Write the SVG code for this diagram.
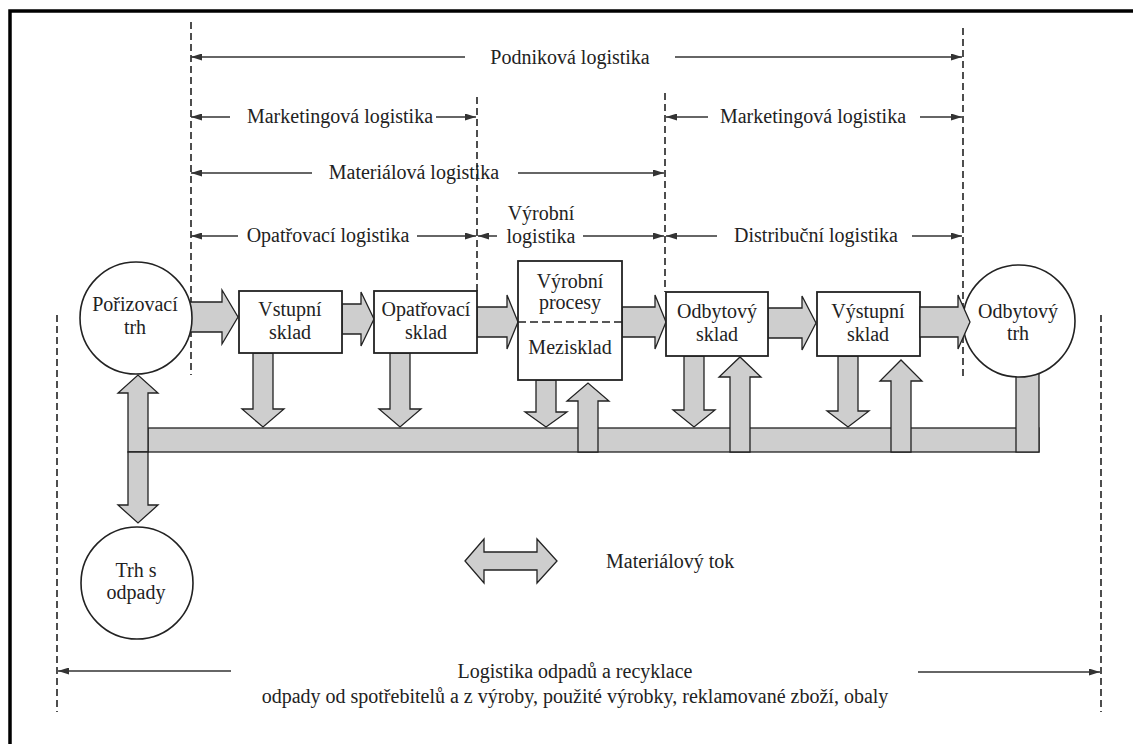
<svg xmlns="http://www.w3.org/2000/svg" width="1133" height="744" viewBox="0 0 1133 744">
<defs>
<marker id="ah" viewBox="0 0 11 7" refX="11" refY="3.5" markerWidth="11" markerHeight="7" orient="auto" markerUnits="userSpaceOnUse"><path d="M0,0 L11,3.5 L0,7 z" fill="#333"/></marker>
<style>
text{font-family:"Liberation Serif","Times New Roman","DejaVu Serif",serif;font-size:20px;fill:#222;text-anchor:middle}
.dash{stroke:#222;stroke-width:1.6;stroke-dasharray:7 4;fill:none}
.dim{stroke:#333;stroke-width:1.5;fill:none;marker-end:url(#ah)}
.flow{fill:#cecece;stroke:#222;stroke-width:1.3;stroke-linejoin:miter}
.box{fill:#fff;stroke:#222;stroke-width:1.8}
.circ{fill:#fff;stroke:#222;stroke-width:1.6}
</style>
</defs>
<rect width="1133" height="744" fill="#fff"/>
<path d="M10,744 V11 H1133" fill="none" stroke="#000" stroke-width="3.5"/>

<g id="boundaries">
<line class="dash" x1="191" y1="22" x2="191" y2="375"/>
<line class="dash" x1="477" y1="97" x2="477" y2="291"/>
<line class="dash" x1="665" y1="93" x2="665" y2="292"/>
<line class="dash" x1="963" y1="28" x2="963" y2="380"/>
<line class="dash" x1="57" y1="315" x2="57" y2="712"/>
<line class="dash" x1="1101" y1="315" x2="1101" y2="712"/>
</g>

<g id="spans" font-family="'Liberation Serif','Times New Roman',serif">
<line class="dim" x1="465" y1="57" x2="191" y2="57"/>
<line class="dim" x1="675" y1="57" x2="962" y2="57"/>
<text x="570" y="64">Podniková logistika</text>
<line class="dim" x1="230" y1="117" x2="191" y2="117"/>
<line class="dim" x1="436" y1="117" x2="476" y2="117"/>
<text x="340" y="123">Marketingová logistika</text>
<line class="dim" x1="312" y1="173" x2="191" y2="173"/>
<line class="dim" x1="518" y1="173" x2="664" y2="173"/>
<text x="414" y="179">Materiálová logistika</text>
<line class="dim" x1="238" y1="236" x2="191" y2="236"/>
<line class="dim" x1="417" y1="236" x2="476" y2="236"/>
<text x="328" y="242">Opatřovací logistika</text>
<line class="dim" x1="497" y1="236" x2="478" y2="236"/>
<line class="dim" x1="583" y1="236" x2="664" y2="236"/>
<text x="541" y="220">Výrobní</text>
<text x="541" y="243">logistika</text>
<line class="dim" x1="708" y1="117" x2="666" y2="117"/>
<line class="dim" x1="920" y1="117" x2="962" y2="117"/>
<text x="813" y="123">Marketingová logistika</text>
<line class="dim" x1="717" y1="236" x2="666" y2="236"/>
<line class="dim" x1="912" y1="236" x2="962" y2="236"/>
<text x="816" y="242">Distribuční logistika</text>
<line class="dim" x1="231" y1="671" x2="58" y2="671"/>
<line class="dim" x1="918" y1="672" x2="1100" y2="672"/>
<text x="575" y="678">Logistika odpadů a recyklace</text>
<text x="575" y="703">odpady od spotřebitelů a z výroby, použité výrobky, reklamované zboží, obaly</text>
</g>

<g id="connectors">
<rect class="flow" x="148" y="428" width="891" height="24"/>
<rect class="flow" x="1016" y="365" width="23" height="87"/>
<polygon class="flow" points="128,452 128,393 118,393 138,375 158,393 148,393 148,452"/>
<polygon class="flow" points="128,452 148,452 148,505 158,505 138,523 118,505 128,505"/>
<polygon class="flow" points="578,452 578,401 567,401 588,383 609,401 598,401 598,452"/>
<polygon class="flow" points="730,452 730,377 719,377 740,357 761,377 750,377 750,452"/>
<polygon class="flow" points="891,452 891,381 880,381 901,360 922,381 911,381 911,452"/>
<polygon class="flow" points="253,353 273,353 273,409 284,409 263,427 242,409 253,409"/>
<polygon class="flow" points="390,353 410,353 410,409 421,409 400,427 379,409 390,409"/>
<polygon class="flow" points="536,380 556,380 556,412 567,412 546,427 525,412 536,412"/>
<polygon class="flow" points="684,356 704,356 704,410 715,410 694,427 673,410 684,410"/>
<polygon class="flow" points="838,356 858,356 858,411 869,411 848,427 827,411 838,411"/>
<polygon class="flow" points="180,302 222,302 222,290 238,317 222,344 222,332 180,332"/>
<polygon class="flow" points="342,304 361,304 361,292 374,319 361,346 361,334 342,334"/>
<polygon class="flow" points="477,307 507,307 507,295 518,322 507,349 507,337 477,337"/>
<polygon class="flow" points="622,307 655,307 655,295 666,322 655,349 655,337 622,337"/>
<polygon class="flow" points="768,308 802,308 802,296 816,323 802,350 802,338 768,338"/>
</g>

<g id="porizovaci-trh" font-family="'Liberation Serif','Times New Roman',serif">
<circle class="circ" cx="136" cy="318" r="56"/>
<text x="135" y="311">Pořizovací</text>
<text x="135" y="334">trh</text>
</g>
<g id="vstupni-sklad" font-family="'Liberation Serif','Times New Roman',serif">
<rect class="box" x="239" y="291" width="103" height="62"/>
<text x="290" y="316">Vstupní</text>
<text x="290" y="339">sklad</text>
</g>
<g id="opatrovaci-sklad" font-family="'Liberation Serif','Times New Roman',serif">
<rect class="box" x="374" y="291" width="103" height="62"/>
<text x="426" y="316">Opatřovací</text>
<text x="426" y="339">sklad</text>
</g>
<g id="vyrobni-procesy" font-family="'Liberation Serif','Times New Roman',serif">
<rect class="box" x="518" y="261" width="104" height="119"/>
<line x1="518" y1="322" x2="622" y2="322" stroke="#222" stroke-width="1.6" stroke-dasharray="8 4"/>
<text x="570" y="288">Výrobní</text>
<text x="570" y="309">procesy</text>
<text x="570" y="354">Mezisklad</text>
</g>
<g id="odbytovy-sklad" font-family="'Liberation Serif','Times New Roman',serif">
<rect class="box" x="666" y="292" width="102" height="64"/>
<text x="717" y="318">Odbytový</text>
<text x="717" y="341">sklad</text>
</g>
<g id="vystupni-sklad" font-family="'Liberation Serif','Times New Roman',serif">
<rect class="box" x="817" y="292" width="103" height="64"/>
<text x="868" y="318">Výstupní</text>
<text x="868" y="341">sklad</text>
</g>
<g id="odbytovy-trh" font-family="'Liberation Serif','Times New Roman',serif">
<circle class="circ" cx="1019" cy="321" r="56"/>
<text x="1018" y="318">Odbytový</text>
<text x="1018" y="340">trh</text>
</g>
<g id="connector-to-market">
<polygon class="flow" points="920,307 958,307 958,295 970,322 958,349 958,337 920,337"/>
</g>
<g id="trh-s-odpady" font-family="'Liberation Serif','Times New Roman',serif">
<circle class="circ" cx="137" cy="583" r="56"/>
<text x="136" y="577">Trh s</text>
<text x="136" y="599">odpady</text>
</g>

<g id="legend" font-family="'Liberation Serif','Times New Roman',serif">
<polygon class="flow" points="465,561 484,539 484,552 537,552 537,539 557,561 537,583 537,570 484,570 484,583"/>
<text x="606" y="568" style="text-anchor:start">Materiálový tok</text>
</g>
</svg>
